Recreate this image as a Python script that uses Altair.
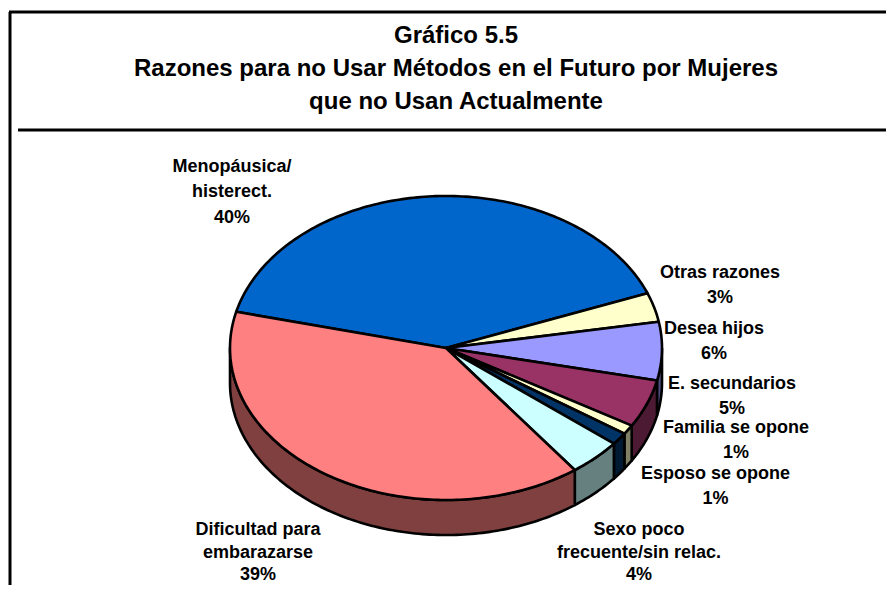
import math
import altair as alt
import pandas as pd

# Chart data
categories = ["Menopáusica/\nhisterect.", "Otras razones", "Desea hijos", "E. secundarios",
              "Familia se opone", "Esposo se opone", "Sexo poco\nfrecuente/sin relac.",
              "Dificultad para\nembarazarse"]
shares = [40.3, 3.1, 6.2, 5.1, 1.0, 1.3, 4.0, 39.0]
shown = ["40%", "3%", "6%", "5%", "1%", "1%", "4%", "39%"]
title_lines = ["Gráfico 5.5",
               "Razones para no Usar Métodos en el Futuro por Mujeres",
               "que no Usan Actualmente"]

# Styles
top_colors = ["#0066CC", "#FFFFCC", "#9999FF", "#993366", "#FFFFCC", "#003366", "#CCFFFF", "#FF8080"]
side_colors = ["#003366", "#808066", "#4D4D80", "#4D1A33", "#808066", "#001A33", "#668080", "#804040"]

# Layout (page pixels)
W, H = 886, 585
CX, CY, RX, RY, DEPTH = 446.0, 348.0, 216.0, 152.0, 35.0
START = 166.2
label_x = [232, 720, 714, 732, 736, 715.5, 639, 258]
label_y = [167, 273, 329, 384, 428, 474, 530, 530]
label_step = [25.4, 25.4, 25.4, 25.4, 25.4, 25.4, 22.5, 22.5]
LABEL_SIZE = 18
TITLE_SIZE = 24
TITLE_X, TITLE_Y, TITLE_STEP = 456, 35.5, 33
frame = [(10, 10, 12, H), (9, W, 12, 12), (18, W, 130, 130)]

xs = alt.Scale(domain=[8, W], range=[0, W - 8], nice=False, zero=False)
ys = alt.Scale(domain=[8, H], range=[0, H - 8], nice=False, zero=False)
X = alt.X("x:Q", scale=xs, axis=None)
Y = alt.Y("y:Q", scale=ys, axis=None)


def pt(t, dy=0.0):
    r = math.radians(t)
    return CX + RX * math.cos(r), CY - RY * math.sin(r) + dy


def arc(a, b, dy=0.0):
    n = max(2, int(abs(b - a) / 1.0) + 2)
    return [pt(a + (b - a) * i / (n - 1), dy) for i in range(n)]


def poly(points, fill):
    points = points + [points[0]]
    df = pd.DataFrame(points, columns=["x", "y"])
    df["i"] = range(len(df))
    return alt.Chart(df).mark_line(fill=fill, stroke="black", strokeWidth=2.6,
                                   strokeJoin="round", interpolate="linear").encode(
        x=X, y=Y, order="i:Q")


total = sum(shares)
edges = [START]
for s in shares:
    edges.append(edges[-1] - s / total * 360)

walls, tops = [], []
for i in range(len(shares)):
    hi, lo = edges[i], edges[i + 1]
    tops.append(poly([(CX, CY)] + arc(hi, lo), top_colors[i]))
    # visible rim: lower half of the ellipse, angles in [-180, 0]
    a = min(hi, 0.0)
    b = max(lo, -180.0)
    if a > b:
        walls.append(poly(arc(a, b) + arc(b, a, DEPTH), side_colors[i]))

rows = []
for i, c in enumerate(categories):
    for j, line in enumerate(c.split("\n") + [shown[i]]):
        rows.append({"x": label_x[i], "y": label_y[i] + j * label_step[i], "t": line})
labels = alt.Chart(pd.DataFrame(rows)).mark_text(
    font="Liberation Sans", fontWeight="bold", fontSize=LABEL_SIZE, color="black",
    align="center", baseline="middle").encode(x=X, y=Y, text="t:N")

title = alt.Chart(pd.DataFrame([
    {"x": TITLE_X, "y": TITLE_Y + j * TITLE_STEP, "t": t} for j, t in enumerate(title_lines)
])).mark_text(font="Liberation Sans", fontWeight="bold", fontSize=TITLE_SIZE, color="black",
              align="center", baseline="middle").encode(x=X, y=Y, text="t:N")

rules = alt.Chart(pd.DataFrame(frame, columns=["x", "x2", "y", "y2"])).mark_rule(
    color="black", strokeWidth=3).encode(x=X, x2="x2:Q", y=Y, y2="y2:Q")

chart = alt.layer(rules, *walls, *tops, labels, title).properties(
    width=W - 8, height=H - 8, padding=0, autosize=alt.AutoSizeParams(type="none"),
    background="white").configure_view(stroke=None)

chart.save("out.html", embed_options={"renderer": "svg", "actions": False})
